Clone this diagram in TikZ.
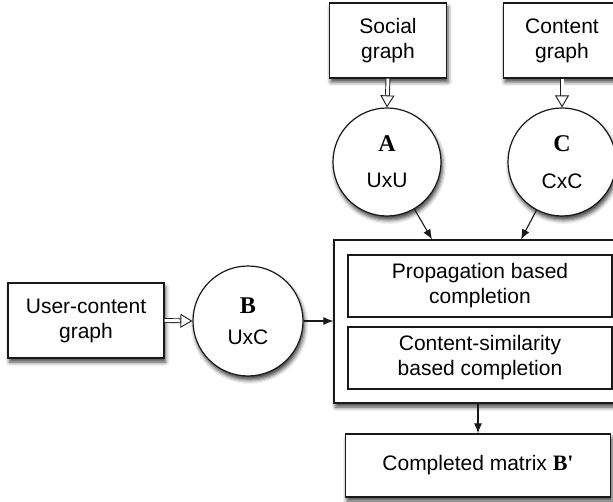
\documentclass[tikz,border=0pt]{standalone}
\usepackage{fontspec}
\setmainfont{Liberation Sans}
\newfontfamily\letterfont{Liberation Serif}
\usetikzlibrary{arrows.meta, positioning, shadows.blur}

\begin{document}
\begin{tikzpicture}[
    x=1pt, y=-1pt,
    font=\fontsize{21}{25}\selectfont,
    shade/.style={blur shadow={shadow xshift=1.5pt, shadow yshift=-4pt, shadow blur radius=4pt, shadow opacity=75}},
    box/.style={rectangle, draw=black!90, line width=1.2pt, fill=white, align=center, inner sep=0pt, shade},
    innerbox/.style={rectangle, draw=black!90, line width=1.2pt, fill=white, align=center, inner sep=0pt, minimum width=264pt, minimum height=62pt},
    matbox/.style={circle, draw=black!90, line width=1.2pt, fill=white, align=center, inner sep=0pt, minimum size=108pt, shade},
    arr/.style={-{Latex[length=10pt, width=8pt]}, line width=1.1pt, black!90},
    hollow/.style={-{Triangle[open, length=12pt, width=14pt]}, draw=black!90, double=white, double distance=3pt, line width=0.9pt}
]
    \useasboundingbox (0,0) rectangle (613,502);

    % Nodes
    \node[box, minimum width=117pt, minimum height=75pt] (social) at (388,40.5) {Social\\graph};
    \node[box, minimum width=117pt, minimum height=75pt] (content) at (562,40.5) {Content\\graph};
    \node[box, minimum width=156pt, minimum height=75pt] (usercontent) at (86,320.5) {User-content\\graph};

    \node[matbox] (A) at (387,162) {{\letterfont\bfseries\fontsize{24}{25}\selectfont A}\\[11pt]UxU};
    \node[matbox] (C) at (562,162) {{\letterfont\bfseries\fontsize{24}{25}\selectfont C}\\[12pt]CxC};
    \node[matbox, minimum size=110pt] (B) at (248,321) {{\letterfont\bfseries\fontsize{24}{25}\selectfont B}\\[6pt]UxC};

    \node[box, minimum width=292pt, minimum height=163pt] (outer) at (480,321.5) {};
    \node[innerbox] (propagation) at (480,286) {Propagation based\\completion};
    \node[innerbox] (similarity) at (480,358) {Content-similarity\\based completion};

    \node[box, minimum width=265pt, minimum height=63pt] (done) at (478,465.5) {Completed matrix {\letterfont\bfseries\fontsize{22}{25}\selectfont B\textquotesingle}};

    \coordinate (aend) at ([xshift=-48pt]outer.north);
    \coordinate (cend) at ([xshift=41pt]outer.north);

    % Arrows
    \draw[hollow] (social.south) -- (A.north);
    \draw[hollow] (content.south) -- (C.north);
    \draw[hollow] (usercontent.east) -- (B.west);
    \draw[arr] (A) -- (aend);
    \draw[arr] (C) -- (cend);
    \draw[arr] (B.east) -- (outer.west |- B.east);
    \draw[arr] (done.north |- outer.south) -- (done.north);

\end{tikzpicture}
\end{document}
